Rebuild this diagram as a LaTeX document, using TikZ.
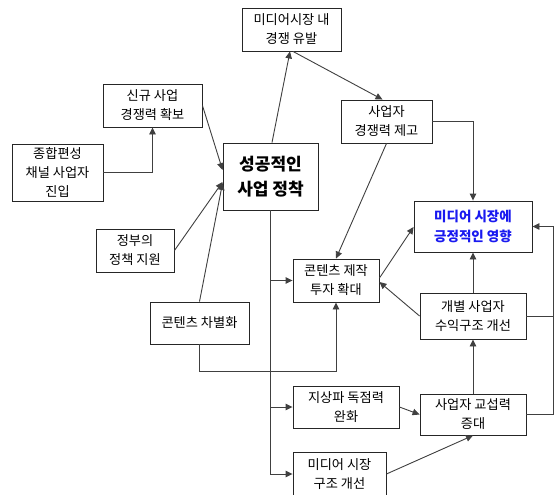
\documentclass[tikz,border=0pt]{standalone}
\usepackage{fontspec}
\setmainfont{Noto Sans CJK KR}
\usetikzlibrary{arrows.meta,calc}
\definecolor{ln}{RGB}{64,64,64}
\definecolor{bl}{RGB}{25,25,240}
\begin{document}
\begin{tikzpicture}[x=1pt,y=-1pt,
 box/.style={draw=black!85,line width=0.9pt,fill=white,inner sep=0pt,align=center,font=\fontsize{13.2}{19}\selectfont},
 con/.style={draw=ln,line width=0.9pt,-{Triangle[length=7pt,width=6.5pt]}},
 plain/.style={draw=ln,line width=0.9pt}]
\useasboundingbox (0,0) rectangle (557,495);
\fill[white] (0,0) rectangle (557,495);
% nodes
\node[box,minimum width=99pt,minimum height=43pt] (comp) at (291.5,29.5) {미디어시장 내\\경쟁 유발};
\node[box,minimum width=99pt,minimum height=43pt] (newbiz) at (152.5,105.5) {신규 사업\\경쟁력 확보};
\node[box,minimum width=91pt,minimum height=57pt] (jong) at (57.5,172.5) {종합편성\\채널 사업자\\진입};
\node[box,minimum width=95pt,minimum height=67pt,font=\bfseries\fontsize{17}{25}\selectfont] (succ) at (270.5,176.5) {성공적인\\사업 정착};
\node[box,minimum width=78pt,minimum height=43pt] (gov) at (135,250.5) {정부의\\정책 지원};
\node[box,minimum width=99pt,minimum height=42pt] (diff) at (199.5,323) {콘텐츠 차별화};
\node[box,minimum width=91pt,minimum height=43pt] (compet) at (386.5,121.5) {사업자\\경쟁력 제고};
\node[box,minimum width=118pt,minimum height=51pt,text=bl,font=\bfseries\fontsize{13.5}{20}\selectfont] (media) at (473,226.5) {미디어 시장에\\긍정적인 영향};
\node[box,minimum width=86pt,minimum height=43pt] (invest) at (336,280.5) {콘텐츠 제작\\투자 확대};
\node[box,minimum width=106pt,minimum height=46pt] (profit) at (473,316) {개별 사업자\\수익구조 개선};
\node[box,minimum width=106pt,minimum height=42pt] (terr) at (346,407) {지상파 독점력\\완화};
\node[box,minimum width=106pt,minimum height=41pt] (barg) at (473,414.5) {사업자 교섭력\\증대};
\node[box,minimum width=93pt,minimum height=44pt] (struct) at (339.5,474) {미디어 시장\\구조 개선};
\coordinate (busR) at (553,0);
% connectors
\draw[con] (jong.east) -| (newbiz.south);
\draw[con] (newbiz.east) -- ($(succ.west)+(0,-6.5)$);
\draw[con] (gov.east) -- ($(succ.west)+(0,5.5)$);
\draw[con] (diff.north) -- ($(succ.west)+(0,6.5)$);
\draw[con] ($(succ.north)+(1.5,0)$) -- ($(comp.south)+(-1.5,0)$);
\draw[con] ($(comp.south)+(1.5,0)$) -- ($(compet.north)+(-4,0)$);
\draw[con] (compet.east) -| (media.north);
\draw[con] (compet.south) -- (invest.north);
\draw[con] (succ.south) |- (invest.west);
\draw[con] (succ.south) |- (terr.west);
\draw[con] (succ.south) |- (struct.west);
\draw[con] (diff.south) -- ++(0,27) -| (invest.south);
\draw[con] ($(invest.east)+(0,-2.5)$) -- ($(media.west)+(0,0.5)$);
\draw[con] (profit.west) -- ($(invest.east)+(0,1.5)$);
\draw[con] (profit.north) -- (media.south);
\draw[con] (profit.east) -- (profit.east -| busR) |- (media.east);
\draw[plain] (barg.east) -- (barg.east -| busR) -- (profit.east -| busR);
\draw[con] (barg.north) -- (profit.south);
\draw[con] (terr.east) -- (barg.west);
\draw[con] (struct.east) -- (barg.south);
\end{tikzpicture}
\end{document}
